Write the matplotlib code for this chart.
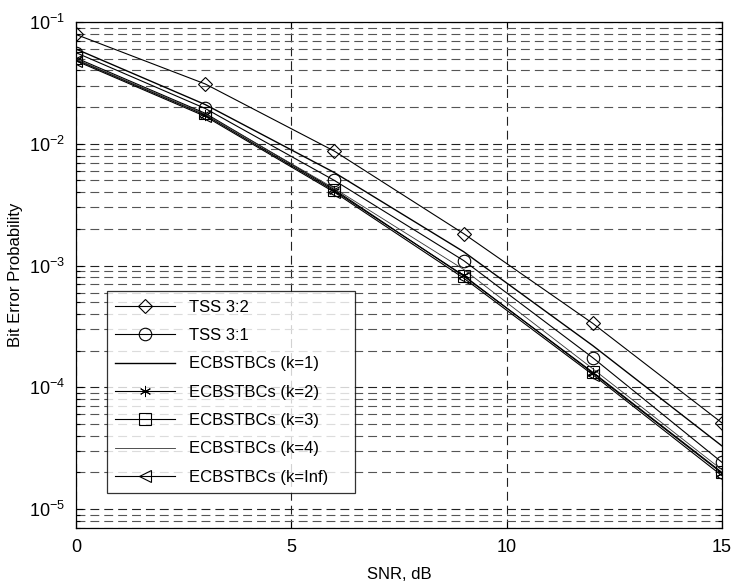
import numpy as np
import matplotlib.pyplot as plt
from matplotlib.ticker import LogLocator, FixedLocator

plt.rcParams['font.family'] = ['Liberation Sans', 'DejaVu Sans']
plt.rcParams['mathtext.fontset'] = 'custom'
plt.rcParams['mathtext.rm'] = 'Liberation Sans'
plt.rcParams['mathtext.it'] = 'Liberation Sans'

snr = [0, 3, 6, 9, 12, 15]
tss32 = [0.079, 0.031, 0.0087, 0.00183, 3.35e-4, 5.1e-5]
tss31 = [0.056, 0.0195, 0.0050, 0.00110, 1.75e-4, 2.42e-5]
k1 = [0.060, 0.021, 0.0058, 0.00130, 2.2e-4, 3.3e-5]
k2 = [0.049, 0.0172, 0.0041, 8.3e-4, 1.31e-4, 1.97e-5]
k3 = [0.0507, 0.0178, 0.0042, 8.2e-4, 1.33e-4, 2.0e-5]
k4 = [0.0495, 0.0175, 0.0043, 9.3e-4, 1.42e-4, 2.1e-5]
kinf = [0.048, 0.0168, 0.0040, 7.9e-4, 1.27e-4, 1.88e-5]

fig = plt.figure(figsize=(7.34, 5.83), dpi=100)
ax = fig.add_axes([0.1035, 0.0943, 0.8802, 0.868])

lw = 0.8
ax.plot(snr, tss32, 'k-', marker='D', ms=7, mfc='none', mew=0.8, lw=lw, label='TSS 3:2')
ax.plot(snr, tss31, 'k-', marker='o', ms=9, mfc='none', mew=0.8, lw=lw, label='TSS 3:1')
ax.plot(snr, k1, 'k-', lw=1.0, label='ECBSTBCs (k=1)')
ax.plot(snr, k2, 'k-', marker=(6, 2, 0), ms=8, mew=0.7, lw=lw, label='ECBSTBCs (k=2)')
ax.plot(snr, k3, 'k-', marker='s', ms=8, mfc='none', mew=0.8, lw=lw, label='ECBSTBCs (k=3)')
ax.plot(snr, k4, '-', color='#333333', lw=0.6, label='ECBSTBCs (k=4)')
ax.plot(snr, kinf, 'k-', marker='<', ms=9, mfc='none', mew=0.8, lw=lw, label='ECBSTBCs (k=Inf)')

ax.set_yscale('log')
ax.set_xlim(0, 15)
ax.set_ylim(7e-6, 0.1)
ax.xaxis.set_major_locator(FixedLocator([0, 5, 10, 15]))
ax.yaxis.set_major_locator(LogLocator(base=10, numticks=10))
ax.yaxis.set_minor_locator(LogLocator(base=10, subs=np.arange(2, 10), numticks=20))

ax.grid(True, which='major', axis='both', color='#222222', linestyle=(0, (8, 4.5)), lw=0.8)
ax.grid(True, which='minor', axis='y', color='#555555', linestyle=(0, (8, 4.5)), lw=0.8)

ax.tick_params(which='both', direction='in', top=True, right=True, labelsize=13, width=0.8)
ax.tick_params(which='major', length=5, pad=8)
ax.tick_params(which='minor', length=3)
for s in ax.spines.values():
    s.set_linewidth(0.9)

ax.set_xlabel('SNR, dB', fontsize=12, labelpad=8)
ax.set_ylabel('Bit Error Probability', fontsize=12, labelpad=4)

leg = ax.legend(loc='lower left', bbox_to_anchor=(0.048, 0.069, 0.384, 0.397), mode='expand',
                fontsize=12, frameon=True, fancybox=False, edgecolor='black',
                handlelength=3.6, borderaxespad=0, labelspacing=0.8, borderpad=0.5)
leg.get_frame().set_linewidth(0.9)

plt.savefig('out.png', dpi=100)
plt.close()
